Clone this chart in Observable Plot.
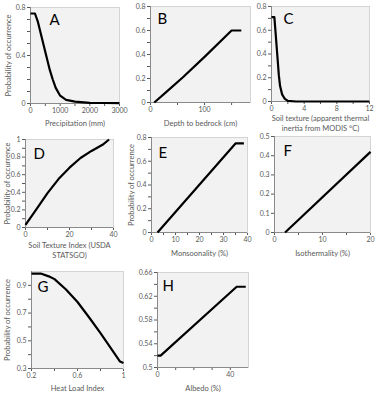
<!DOCTYPE html>
<html>
<head>
<meta charset="utf-8">
<script src="https://cdn.jsdelivr.net/npm/d3@7"></script>
<script src="https://cdn.jsdelivr.net/npm/@observablehq/plot@0.6"></script>
<style>
  body { margin: 0; background: #fff; }
  #wrap { position: relative; width: 381px; height: 400px; overflow: hidden; background: #fff; }
  #wrap svg { position: absolute; left: 0; top: 0; }
</style>
</head>
<body>
<div id="wrap"></div>
<script>
// ---- Data ----
const precipitation = [0, 150, 250, 350, 450, 550, 650, 750, 850, 1000, 1200, 1500, 2000, 2500, 3000];
const probPrecip    = [0.75, 0.75, 0.68, 0.58, 0.48, 0.38, 0.28, 0.2, 0.13, 0.065, 0.03, 0.015, 0.006, 0.004, 0.003];

const depthBedrock  = [7, 30, 60, 100, 150, 168];
const probDepth     = [0, 0.09, 0.21, 0.38, 0.6, 0.6];

const thermalInertia = [0, 0.35, 0.5, 0.7, 0.9, 1.05, 1.3, 1.6, 2.0, 3, 12];
const probThermal    = [0.71, 0.71, 0.58, 0.4, 0.22, 0.13, 0.06, 0.025, 0.005, 0, 0];

const soilTextureIndex = [0, 5, 10, 15, 20, 25, 30, 35, 38];
const probSoilTexture  = [0.03, 0.21, 0.39, 0.55, 0.68, 0.79, 0.87, 0.94, 1.0];

const monsoonality     = [2.5, 35, 38.5];
const probMonsoon      = [0, 0.75, 0.75];

const isothermality    = [2.2, 20];
const probIso          = [0, 0.42];

const heatLoad         = [0.2, 0.28, 0.35, 0.4, 0.5, 0.6, 0.7, 0.8, 0.9, 0.97, 1.0];
const probHeat         = [0.985, 0.985, 0.965, 0.945, 0.87, 0.78, 0.67, 0.555, 0.435, 0.35, 0.34];

const albedo           = [0, 1.7, 43.5, 48.5];
const probAlbedo       = [0.52, 0.52, 0.636, 0.636];

// tick values
const ticksA_x = [0, 500, 1000, 1500, 2000, 2500, 3000], labA_x = [0, 1000, 2000, 3000];
const ticks08 = [0, 0.1, 0.2, 0.3, 0.4, 0.5, 0.6, 0.7, 0.8];
const labA_y = [0, 0.4, 0.8];
const lab08 = [0, 0.2, 0.4, 0.6, 0.8];
const ticksB_x = [0, 50, 100, 150], labB_x = [0, 100];
const ticksC_x = [0, 2, 4, 6, 8, 10, 12], labC_x = [0, 4, 8, 12];
const ticksD_x = [0, 10, 20, 30, 40], labD_x = [0, 20, 40];
const ticksD_y = [0, 0.1, 0.2, 0.3, 0.4, 0.5, 0.6, 0.7, 0.8, 0.9, 1], labD_y = [0, 0.2, 0.4, 0.6, 0.8, 1];
const ticksE_x = [0, 5, 10, 15, 20, 25, 30, 35, 40], labE_x = [0, 10, 20, 30, 40];
const ticksF_x = [0, 5, 10, 15, 20], labF_x = [0, 10, 20];
const ticksF_y = [0, 0.1, 0.2, 0.3, 0.4, 0.5], labF_y = ticksF_y;
const ticksG_x = [0.2, 0.4, 0.6, 0.8, 1.0], labG_x = [0.2, 0.6, 1];
const ticksG_y = [0.3, 0.4, 0.5, 0.6, 0.7, 0.8, 0.9], labG_y = [0.3, 0.5, 0.7, 0.9];
const ticksH_x = [0, 10, 20, 30, 40], labH_x = [0, 40];
const ticksH_y = [0.5, 0.52, 0.54, 0.56, 0.58, 0.6, 0.62, 0.64, 0.66], labH_y = [0.5, 0.54, 0.58, 0.62, 0.66];

const yTitle = "Probability of occurrence";

// ---- Layout config ----
const panels = [
  {letter: "A", box: [30, 7, 119, 103], xs: precipitation, ys: probPrecip, xd: [0, 3000], yd: [0, 0.8],
   xt: ticksA_x, xl: labA_x, yt: ticks08, yl: labA_y, title: "Precipitation (mm)", tdy: 16, ytdx: -22, ldx: 19, ldy: 7},
  {letter: "B", box: [150, 6, 250, 102], xs: depthBedrock, ys: probDepth, xd: [0, 185], yd: [0, 0.8],
   xt: ticksB_x, xl: labB_x, yt: ticks08, yl: lab08, title: "Depth to bedrock (cm)", tdy: 17, ldx: 7, ldy: 7},
  {letter: "C", box: [271, 6, 369, 101], xs: thermalInertia, ys: probThermal, xd: [0, 12], yd: [0, 0.8],
   xt: ticksC_x, xl: labC_x, yt: ticks08, yl: lab08, title: "Soil texture (apparent thermal\ninertia from MODIS \u00b0C)", tdy: 13, ldx: 12, ldy: 7},
  {letter: "D", box: [25, 139, 113, 227], xs: soilTextureIndex, ys: probSoilTexture, xd: [0, 40], yd: [0, 1],
   xt: ticksD_x, xl: labD_x, yt: ticksD_y, yl: labD_y, title: "Soil Texture Index (USDA\nSTATSGO)", tdy: 14, ytdx: -18, ldx: 8, ldy: 9},
  {letter: "E", box: [151, 137, 247, 232], xs: monsoonality, ys: probMonsoon, xd: [0, 40], yd: [0, 0.8],
   xt: ticksE_x, xl: labE_x, yt: ticks08, yl: lab08, title: "Monsoonality (%)", tdy: 17, ytdx: -20, ldx: 7, ldy: 10},
  {letter: "F", box: [274, 136, 370, 232], xs: isothermality, ys: probIso, xd: [0, 20], yd: [0, 0.5],
   xt: ticksF_x, xl: labF_x, yt: ticksF_y, yl: labF_y, title: "Isothermality (%)", tdy: 17, ldx: 9, ldy: 9},
  {letter: "G", box: [31, 271, 123, 368], xs: heatLoad, ys: probHeat, xd: [0.2, 1], yd: [0.3, 1.0],
   xt: ticksG_x, xl: labG_x, yt: ticksG_y, yl: labG_y, title: "Heat Load Index", tdy: 16, ytdx: -24, ldx: 6, ldy: 10},
  {letter: "H", box: [157, 272, 248, 367], xs: albedo, ys: probAlbedo, xd: [0, 50], yd: [0.5, 0.66],
   xt: ticksH_x, xl: labH_x, yt: ticksH_y, yl: labH_y, title: "Albedo (%)", tdy: 17, ldx: 5, ldy: 8}
];

const FONT = "Lato, 'Open Sans', 'DejaVu Sans', sans-serif";
const GRAY = "#595959";

function fmtFor(labels) {
  return d => labels.some(v => Math.abs(v - d) < 1e-9) ? String(+(+d).toFixed(2)) : "";
}

function panel(p) {
  const [L, T, R, B] = p.box;
  const data = p.xs.map((x, i) => ({x, y: p.ys[i]}));
  const marks = [
    Plot.frame({fill: "#f2f2f2", stroke: "#d4d4d4"}),
    Plot.ruleX([p.xd[0]], {stroke: "#8a8a8a"}),
    Plot.ruleY([p.yd[0]], {stroke: "#8a8a8a"}),
    Plot.line(data, {x: "x", y: "y", stroke: "#000", strokeWidth: 2.2, strokeLinejoin: "round", strokeLinecap: "butt"}),
    Plot.text([p.letter], {frameAnchor: "top-left", dx: p.ldx, dy: p.ldy, textAnchor: "start", lineAnchor: "top",
      fontSize: 15, fill: "#000"}),
    Plot.text([p.title], {frameAnchor: "bottom", dy: p.tdy, lineAnchor: "top", textAnchor: "middle",
      fontSize: 7.5, fill: GRAY, lineHeight: 1.3})
  ];
  if (p.ytdx !== undefined) {
    marks.push(Plot.text([{x: p.xd[0], y: (p.yd[0] + p.yd[1]) / 2, t: yTitle}], {
      x: "x", y: "y", text: "t", dx: p.ytdx, rotate: -90, textAnchor: "middle", lineAnchor: "middle",
      fontSize: 7.5, fill: GRAY
    }));
  }
  return Plot.plot({
    width: 381, height: 400,
    marginLeft: L, marginTop: T, marginRight: 381 - R, marginBottom: 400 - B,
    style: {background: "transparent", fontFamily: FONT, fontSize: "7px", color: GRAY, overflow: "visible"},
    x: {domain: p.xd, ticks: p.xt, tickFormat: fmtFor(p.xl), tickSize: 3, tickPadding: 2, label: null},
    y: {domain: p.yd, ticks: p.yt, tickFormat: fmtFor(p.yl), tickSize: 3, tickPadding: 2, label: null},
    marks
  });
}

const wrap = document.getElementById("wrap");
for (const p of panels) wrap.appendChild(panel(p));
</script>
</body>
</html>
